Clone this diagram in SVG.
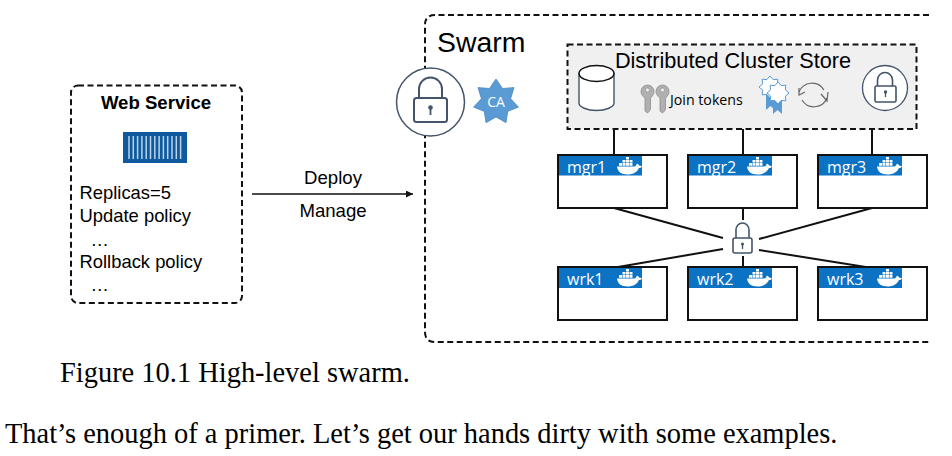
<svg xmlns="http://www.w3.org/2000/svg" width="952" height="456" viewBox="0 0 952 456">
<style>
text{font-family:"Liberation Sans",Arial,sans-serif;fill:#000}
.dash{fill:none;stroke:#111;stroke-width:2;stroke-dasharray:6 3.5}
.conn{fill:none;stroke:#111;stroke-width:2}
.box{fill:#fff;stroke:#111;stroke-width:2}
.hdr{fill:#0b72c4}
.nm{font-family:"Open Sans","Noto Sans",sans-serif;font-size:16px;fill:#fff}
.lbl{font-size:18.4px}
.cap{font-family:"Liberation Serif","Times New Roman",serif;font-size:28.45px}
.lk{fill:none;stroke:#44546a;stroke-width:1.6}
.wh{fill:#fff}
.star{fill:#fff;stroke:#5b9bd5;stroke-width:1}
.rib{fill:#5b9bd5}
</style>
<defs>
<g id="whale">
<path class="wh" d="M0 5.5H17.5C19 5 19.500 3.500 20 2.500C21 3 22 4 22.500 4.800C23.500 4.500 24.500 4.700 25 5.200C24.500 6.500 23 7 22 7C20 11.500 15.500 13.500 10.500 13.500C4 13.500 0.500 10.500 0 5.500Z"/>
<path class="wh" d="M2 2H5V4.700H2ZM5.500 2H8.500V4.700H5.500ZM9 2H12V4.700H9ZM12.500 2H15.500V4.700H12.500ZM5.500 -1H8.500V1.500H5.500ZM9 -1H12V1.500H9ZM12.500 -1H15.500V1.500H12.500ZM9 -4H12V-1.500H9Z"/>
</g>
<g id="key">
<path d="M0 -7.500A6.500 6.500 0 0 1 13 -7.500C13 -4.500 11 -2.500 9.500 -1V10L8.500 12L6.500 14L4 12V-1C2 -2.500 0 -4.500 0 -7.500Z" fill="#b0b0b0" stroke="#8c8c8c" stroke-width="0.800"/>
<circle cx="6.500" cy="-9" r="2" fill="#f0f0f0" stroke="#8c8c8c" stroke-width="0.600"/>
</g>
<polygon id="star8" points="0,-11 3.100,-7.400 7.800,-7.800 7.400,-3.100 11,0 7.400,3.100 7.800,7.800 3.100,7.400 0,11 -3.100,7.400 -7.800,7.800 -7.400,3.100 -11,0 -7.400,-3.100 -7.800,-7.800 -3.100,-7.400"/>
<marker id="arr" markerWidth="8" markerHeight="8" refX="7" refY="3.500" orient="auto" markerUnits="userSpaceOnUse"><path d="M0 0L7 3.500L0 7Z" fill="#111"/></marker>
</defs>
<rect width="952" height="456" fill="#fff"/>

<g id="connectors">
<path class="conn" style="stroke-width:1.300" d="M252 194H413" marker-end="url(#arr)"/>
<path class="conn" d="M614 129V155M743 129V155M872 129V155"/>
<path class="conn" d="M614 208L723 238M618 267L723 249M872 208L759 239M872 268L759 250M743 208V223M743 254V267"/>
</g>

<g id="web-service">
<rect class="dash" x="71" y="85.500" width="171" height="217.500" rx="7"/>
<text x="156" y="108.500" font-size="18.600" font-weight="700" text-anchor="middle">Web Service</text>
<rect x="123" y="132" width="64" height="31" fill="#0f5a9e"/>
<path d="M129 136V159M133.300 136V159M137.600 136V159M141.900 136V159M146.200 136V159M150.500 136V159M154.800 136V159M159.100 136V159M163.400 136V159M167.700 136V159M172 136V159M176.300 136V159M180.600 136V159" stroke="#b9d3ea" stroke-width="1.500"/>
<text class="lbl" x="79.500" y="199">Replicas=5</text>
<text class="lbl" x="79.500" y="222">Update policy</text>
<text class="lbl" x="90.500" y="246">…</text>
<text class="lbl" x="79.500" y="268">Rollback policy</text>
<text class="lbl" x="90.500" y="291">…</text>
</g>

<g id="deploy-labels">
<text x="333" y="184" font-size="18.600" text-anchor="middle">Deploy</text>
<text x="333" y="216.500" font-size="18.600" text-anchor="middle">Manage</text>
</g>

<g id="swarm">
<path class="dash" d="M929 15H435Q425 15 425 25V332Q425 342 435 342H929"/>
<text x="437" y="52" font-size="28.400">Swarm</text>
</g>

<g id="swarm-lock">
<circle cx="430.500" cy="102" r="34" fill="#fff" stroke="#44546a" stroke-width="1.500"/>
<path class="lk" style="stroke-width:2" d="M419 98V89A11.500 11.500 0 0 1 442 89V98"/>
<rect class="lk" style="stroke-width:2" x="414" y="98" width="33" height="24" rx="2.500"/>
<circle cx="430.500" cy="107.500" r="2.300" fill="#44546a"/>
<path d="M430.500 108V115" stroke="#44546a" stroke-width="1.800"/>
</g>

<g id="ca">
<path d="M496 79L502.500 88.500L514 87.600L510.600 98.700L518.400 107.100L507.700 111.400L506 122.700L496 117L486 122.700L484.300 111.400L473.600 107.100L481.400 98.700L478 87.600L489.500 88.500Z" fill="#5b9bd5" stroke="#4a86bd" stroke-width="0.800"/>
<text x="496" y="107" font-size="14" text-anchor="middle" style="fill:#fff;font-family:'Open Sans',sans-serif">CA</text>
</g>

<g id="store">
<rect x="567.500" y="44.500" width="349" height="84.500" fill="#f0f0f0" stroke="#111" stroke-width="2" stroke-dasharray="6 3.500"/>
<text x="733" y="68" font-size="21.700" text-anchor="middle">Distributed Cluster Store</text>
<path d="M579 73V103C579 107 587 110.500 596.500 110.500C606 110.500 614 107 614 103V73" fill="#fff" stroke="#44546a" stroke-width="1.400"/>
<ellipse cx="596.500" cy="73.500" rx="17.500" ry="8" fill="#fff" stroke="#111" stroke-width="1.500"/>
<use href="#key" x="641" y="99"/>
<use href="#key" x="656" y="99"/>
<text x="670" y="105" font-size="14.200" style="font-family:'Open Sans',sans-serif">Join tokens</text>
<path class="rib" d="M766 92H775V110L770.500 106L766 110Z"/>
<path class="rib" d="M773 98H782V114L777.500 110L773 114Z"/>
<use href="#star8" class="star" x="770" y="87"/>
<use href="#star8" class="star" x="778" y="93"/>
<path d="M799 92A14 14 0 0 1 824 90M827 98A14 14 0 0 1 802 100" fill="none" stroke="#666" stroke-width="1.200"/>
<path d="M799 88L799 95L805 92M821 94L827 101L828 92" fill="none" stroke="#666" stroke-width="1.200"/>
<circle cx="885" cy="88" r="22.500" fill="#fff" stroke="#44546a" stroke-width="1.300"/>
<path class="lk" d="M877.500 86V80A7.500 7.500 0 0 1 892.500 80V86"/>
<rect class="lk" x="875" y="86" width="21" height="16" rx="1.500"/>
<circle cx="885.500" cy="92" r="1.700" fill="#44546a"/>
<path d="M885.500 92V97" stroke="#44546a" stroke-width="1.300"/>
</g>

<g id="mgr1"><rect class="box" x="558" y="155" width="109" height="53"/><rect class="hdr" x="559" y="156" width="83" height="19.500"/><text class="nm" x="567" y="173">mgr1</text><use href="#whale" x="617" y="161"/></g>
<g id="mgr2"><rect class="box" x="688" y="155" width="109" height="53"/><rect class="hdr" x="689" y="156" width="83" height="19.500"/><text class="nm" x="697" y="173">mgr2</text><use href="#whale" x="747" y="161"/></g>
<g id="mgr3"><rect class="box" x="818" y="155" width="109" height="53"/><rect class="hdr" x="819" y="156" width="83" height="19.500"/><text class="nm" x="827" y="173">mgr3</text><use href="#whale" x="877" y="161"/></g>
<g id="wrk1"><rect class="box" x="558" y="267" width="109" height="53"/><rect class="hdr" x="559" y="268" width="83" height="20"/><text class="nm" x="567" y="285">wrk1</text><use href="#whale" x="617" y="273"/></g>
<g id="wrk2"><rect class="box" x="688" y="267" width="109" height="53"/><rect class="hdr" x="689" y="268" width="83" height="20"/><text class="nm" x="697" y="285">wrk2</text><use href="#whale" x="747" y="273"/></g>
<g id="wrk3"><rect class="box" x="818" y="267" width="109" height="53"/><rect class="hdr" x="819" y="268" width="83" height="20"/><text class="nm" x="827" y="285">wrk3</text><use href="#whale" x="877" y="273"/></g>

<g id="net-lock">
<rect x="727" y="220" width="31" height="36" fill="#fff"/>
<path class="lk" d="M736 238V230A6.500 7 0 0 1 749 230V238"/>
<rect class="lk" x="733" y="238" width="19" height="15" rx="2" fill="#fff"/>
<circle cx="742.500" cy="244" r="1.500" fill="#44546a"/>
<path d="M742.500 244V249" stroke="#44546a" stroke-width="1.300"/>
</g>

<g id="caption">
<text class="cap" x="60" y="382">Figure 10.1 High-level swarm.</text>
<text class="cap" x="5" y="443">That’s enough of a primer. Let’s get our hands dirty with some examples.</text>
</g>
</svg>
